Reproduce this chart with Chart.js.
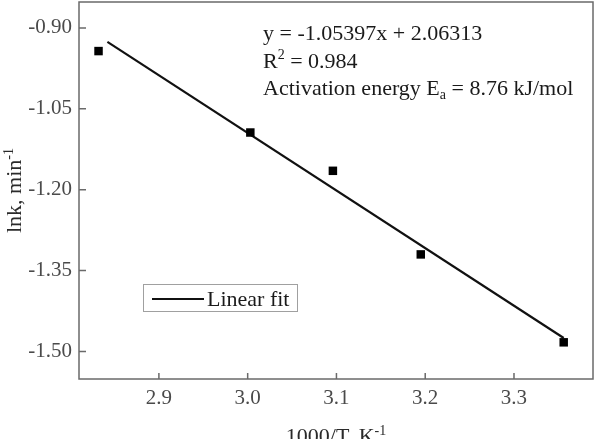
<!DOCTYPE html>
<html>
<head>
<meta charset="utf-8">
<script src="https://cdn.jsdelivr.net/npm/chart.js@4"></script>
<style>
  html, body { margin: 0; padding: 0; background: #fff; }
  #wrap { width: 599px; height: 439px; }
</style>
</head>
<body>
<div id="wrap"><canvas id="arrhenius"></canvas></div>
<script>
// measured points: 1000/T vs lnk
var xValues = [2.832, 3.003, 3.096, 3.195, 3.356];
var lnkValues = [-0.943, -1.094, -1.165, -1.320, -1.483];
// ends of the linear fit line as drawn
var fitX = [2.842, 3.356];
var fitY = [-0.926, -1.475];
var xTicks = [2.9, 3.0, 3.1, 3.2, 3.3];
var yTicks = [-0.90, -1.05, -1.20, -1.35, -1.50];

var serif = "'Liberation Serif', 'Times New Roman', serif";
var axisColor = "#6a6a6a";

// draws text with [text, 'sup'|'sub'] pieces, returns width
function richText(ctx, parts, x, y, size, measureOnly) {
  var cx = x;
  parts.forEach(function (p) {
    var small = p[1] === 'sup' || p[1] === 'sub';
    ctx.font = (small ? Math.round(size * 0.62) : size) + "px " + serif;
    var dy = p[1] === 'sup' ? -size * 0.38 : (p[1] === 'sub' ? size * 0.2 : 0);
    if (!measureOnly) ctx.fillText(p[0], cx, y + dy);
    cx += ctx.measureText(p[0]).width;
  });
  return cx - x;
}

var extras = {
  id: 'extras',
  afterDraw: function (chart) {
    var ctx = chart.ctx;
    var a = chart.chartArea;
    var xs = chart.scales.x, ys = chart.scales.y;
    ctx.save();
    // frame
    ctx.strokeStyle = axisColor;
    ctx.lineWidth = 1.5;
    ctx.strokeRect(a.left, a.top, a.right - a.left, a.bottom - a.top);
    // inward ticks
    ctx.beginPath();
    xTicks.forEach(function (v) {
      var px = xs.getPixelForValue(v);
      ctx.moveTo(px, a.bottom);
      ctx.lineTo(px, a.bottom - 6);
    });
    yTicks.forEach(function (v) {
      var py = ys.getPixelForValue(v);
      ctx.moveTo(a.left, py);
      ctx.lineTo(a.left + 7, py);
    });
    ctx.stroke();

    // fit annotation
    ctx.fillStyle = "#1a1a1a";
    ctx.textAlign = 'left';
    ctx.textBaseline = 'alphabetic';
    richText(ctx, [["y = -1.05397x + 2.06313"]], 263, 40, 22);
    richText(ctx, [["R"], ["2", 'sup'], [" = 0.984"]], 263, 67.5, 22);
    richText(ctx, [["Activation energy E"], ["a", 'sub'], [" = 8.76 kJ/mol"]], 263, 95, 22);

    // legend box
    ctx.strokeStyle = "#a0a0a0";
    ctx.lineWidth = 1;
    ctx.strokeRect(143.5, 284.5, 154, 27);
    ctx.strokeStyle = "#111";
    ctx.lineWidth = 2.2;
    ctx.beginPath();
    ctx.moveTo(152, 299);
    ctx.lineTo(204, 299);
    ctx.stroke();
    ctx.fillStyle = "#1a1a1a";
    richText(ctx, [["Linear fit"]], 207, 306, 22);

    // axis titles
    ctx.fillStyle = "#2a2a2a";
    var xt = [["1000/T, K"], ["-1", 'sup']];
    var w = richText(ctx, xt, 0, 0, 22, true);
    richText(ctx, xt, (a.left + a.right) / 2 - w / 2, 443, 22);

    var yt = [["lnk, min"], ["-1", 'sup']];
    ctx.translate(21, (a.top + a.bottom) / 2);
    ctx.rotate(-Math.PI / 2);
    w = richText(ctx, yt, 0, 0, 22, true);
    richText(ctx, yt, -w / 2, 0, 22);
    ctx.restore();
  }
};

new Chart("arrhenius", {
  type: 'scatter',
  data: {
    datasets: [
      {
        label: 'lnk',
        data: xValues.map(function (x, i) { return { x: x, y: lnkValues[i] }; }),
        pointStyle: 'rect',
        pointRadius: 6,
        pointHoverRadius: 6,
        backgroundColor: '#000',
        borderColor: '#000',
        borderWidth: 0,
      },
      {
        label: 'Linear fit',
        data: fitX.map(function (x, i) { return { x: x, y: fitY[i] }; }),
        showLine: true,
        pointRadius: 0,
        borderColor: '#111',
        borderWidth: 2.2,
      },
    ],
  },
  options: {
    responsive: true,
    maintainAspectRatio: false,
    animation: false,
    layout: { autoPadding: false, padding: { top: 2, right: 6, left: 0, bottom: 0 } },
    plugins: {
      legend: { display: false },
      tooltip: { enabled: false },
    },
    scales: {
      x: {
        type: 'linear',
        min: 2.81,
        max: 3.389,
        grid: { display: false, drawTicks: false },
        border: { display: false },
        afterBuildTicks: function (s) { s.ticks = xTicks.map(function (v) { return { value: v }; }); },
        afterFit: function (s) { s.height = 60; s.paddingLeft = 0; s.paddingRight = 0; },
        ticks: {
          padding: 7,
          color: '#4a4a4a',
          font: { family: serif, size: 21 },
          callback: function (v) { return Number(v).toFixed(1); },
        },
      },
      y: {
        min: -1.551,
        max: -0.852,
        grid: { display: false, drawTicks: false },
        border: { display: false },
        afterBuildTicks: function (s) { s.ticks = yTicks.map(function (v) { return { value: v }; }); },
        afterFit: function (s) { s.width = 79; s.paddingTop = 0; s.paddingBottom = 0; },
        ticks: {
          padding: 7,
          color: '#4a4a4a',
          font: { family: serif, size: 21 },
          callback: function (v) { return Number(v).toFixed(2); },
        },
      },
    },
  },
  plugins: [extras],
});
</script>
</body>
</html>
